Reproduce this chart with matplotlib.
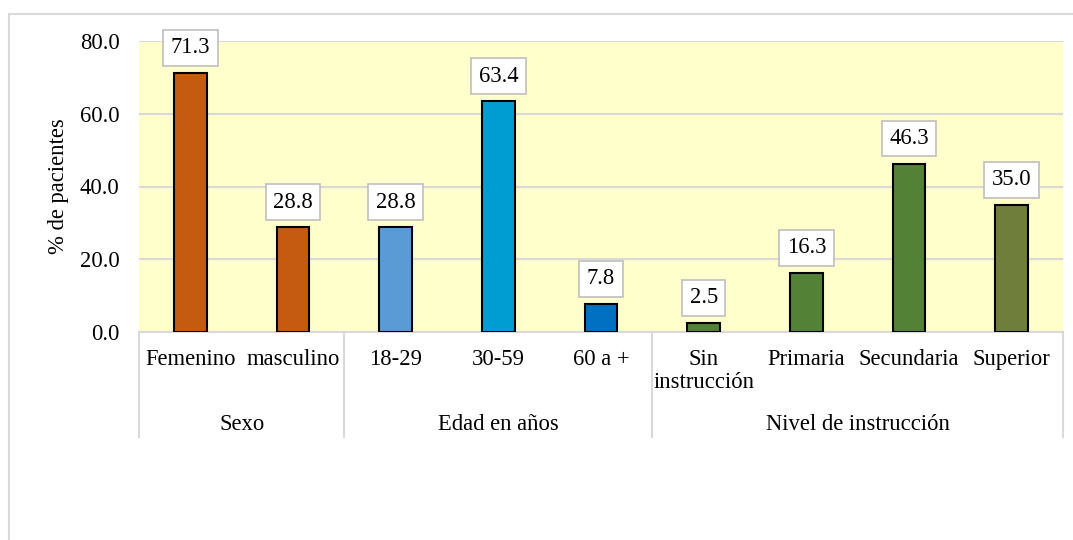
import matplotlib
matplotlib.use("Agg")
import matplotlib.pyplot as plt
from matplotlib.lines import Line2D

plt.rcParams['font.family'] = ['Liberation Serif', 'DejaVu Serif']

categories = ["Femenino", "masculino", "18-29", "30-59", "60 a +",
              "Sin\ninstrucción", "Primaria", "Secundaria", "Superior"]
values = [71.3, 28.8, 28.8, 63.4, 7.8, 2.5, 16.3, 46.3, 35.0]
groups = ["Sexo", "Edad en años", "Nivel de instrucción"]
group_sizes = [2, 3, 4]
colors = ["#C55A11", "#C55A11", "#5B9BD5", "#009DD3", "#0070C0",
          "#538135", "#538135", "#538135", "#6F7E3B"]
yticks = [0, 20, 40, 60, 80]

FS = 16.3
W, H = 1073, 540
fig = plt.figure(figsize=(W / 100, H / 100), dpi=100)

# outer chart border (cut off at right and bottom)
fig.add_artist(Line2D([9 / W, 1.0], [1 - 14 / H, 1 - 14 / H], color="#D9D9D9", lw=1.5,
                      transform=fig.transFigure))
fig.add_artist(Line2D([9 / W, 9 / W], [1 - 14 / H, 0.0], color="#D9D9D9", lw=1.5,
                      transform=fig.transFigure))

ax_l, ax_r, ax_t, ax_b = 139, 1063, 41, 332
ax = fig.add_axes([ax_l / W, 1 - ax_b / H, (ax_r - ax_l) / W, (ax_b - ax_t) / H])
ax.set_facecolor("#FFFFCC")
n = len(categories)
ax.set_xlim(0, n)
ax.set_ylim(0, 80)
ax.set_yticks(yticks)
ax.set_yticklabels([f"{v:.1f}" for v in yticks], fontsize=FS)
ax.tick_params(axis="y", length=0, pad=14)
ax.yaxis.grid(True, color="#D9D9D9", lw=1.5)
ax.set_axisbelow(True)
ax.set_xticks([])
for s in ["left", "right", "top"]:
    ax.spines[s].set_visible(False)
ax.spines["bottom"].set_color("#D9D9D9")
ax.spines["bottom"].set_linewidth(1.5)

xs = [i + 0.5 for i in range(n)]
ax.bar(xs, values, width=0.32, color=colors, edgecolor="black", linewidth=1.5, zorder=3)

for x, v in zip(xs, values):
    ax.annotate(f"{v:.1f}", (x, v), xytext=(0, 10.5), textcoords="offset points",
                ha="center", va="bottom", fontsize=FS, zorder=4,
                bbox=dict(boxstyle="square,pad=0.33", fc="white", ec="#BFBFBF", lw=1.2))

tr = ax.get_xaxis_transform()
axh = ax_b - ax_t
for x, c in zip(xs, categories):
    ax.text(x, -17 / axh, c, transform=tr, ha="center", va="top", fontsize=FS,
            linespacing=1.1)

# group separators and labels
edges = [0]
for g in group_sizes:
    edges.append(edges[-1] + g)
for e in edges:
    ax.add_line(Line2D([e, e], [0, -105 / axh], transform=tr, color="#D9D9D9", lw=1.5,
                       clip_on=False))
for g, a, b in zip(groups, edges[:-1], edges[1:]):
    ax.text((a + b) / 2, -93 / axh, g, transform=tr, ha="center", va="center", fontsize=FS)

ax.set_ylabel("% de pacientes", fontsize=FS, labelpad=8)

fig.savefig("out.png", dpi=100)
